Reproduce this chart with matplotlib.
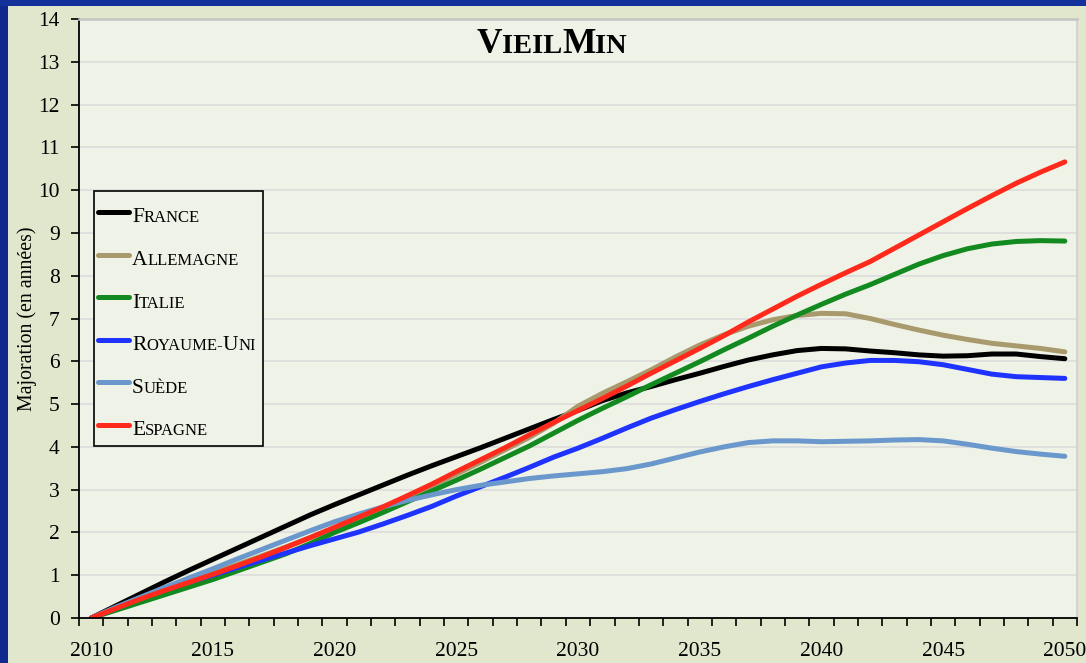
import matplotlib
matplotlib.use("Agg")
import matplotlib.pyplot as plt
from matplotlib.patches import Rectangle
from matplotlib.lines import Line2D
import numpy as np

plt.rcParams['font.family'] = ['Liberation Serif', 'DejaVu Serif']

years = list(range(2010, 2051))

france = [0, 0.28, 0.56, 0.84, 1.11, 1.37, 1.63, 1.89, 2.15, 2.41,
          2.65, 2.88, 3.11, 3.34, 3.56, 3.77, 3.98, 4.2, 4.42, 4.64,
          4.85, 5.08, 5.26, 5.41, 5.57, 5.72, 5.88, 6.03, 6.15, 6.25,
          6.3, 6.29, 6.24, 6.2, 6.15, 6.12, 6.13, 6.17, 6.17, 6.11, 6.06]
allemagne = [0, 0.22, 0.45, 0.66, 0.87, 1.05, 1.25, 1.45, 1.66, 1.88,
             2.1, 2.34, 2.58, 2.83, 3.08, 3.36, 3.64, 3.93, 4.22, 4.55,
             4.95, 5.25, 5.52, 5.8, 6.1, 6.38, 6.62, 6.82, 6.97, 7.07,
             7.12, 7.11, 7.0, 6.86, 6.73, 6.61, 6.51, 6.42, 6.36, 6.3, 6.22]
italie = [0, 0.18, 0.36, 0.54, 0.72, 0.9, 1.1, 1.3, 1.5, 1.74,
          2.0, 2.23, 2.47, 2.72, 2.97, 3.22, 3.48, 3.75, 4.02, 4.32,
          4.62, 4.9, 5.17, 5.45, 5.72, 5.99, 6.27, 6.54, 6.82, 7.08,
          7.33, 7.57, 7.79, 8.03, 8.27, 8.47, 8.63, 8.74, 8.8, 8.82, 8.81]
royaume_uni = [0, 0.23, 0.46, 0.66, 0.84, 1.0, 1.18, 1.35, 1.52, 1.69,
               1.85, 2.01, 2.2, 2.4, 2.61, 2.85, 3.07, 3.29, 3.52, 3.76,
               3.97, 4.2, 4.44, 4.67, 4.87, 5.06, 5.24, 5.41, 5.57, 5.72,
               5.87, 5.96, 6.02, 6.02, 5.99, 5.92, 5.81, 5.7, 5.64, 5.62, 5.6]
suede = [0, 0.25, 0.48, 0.71, 0.93, 1.15, 1.38, 1.6, 1.82, 2.04,
         2.25, 2.43, 2.6, 2.75, 2.88, 3.0, 3.1, 3.18, 3.26, 3.32,
         3.37, 3.42, 3.49, 3.6, 3.74, 3.88, 4.0, 4.1, 4.14, 4.14,
         4.12, 4.13, 4.14, 4.16, 4.17, 4.14, 4.06, 3.97, 3.89, 3.83, 3.78]
espagne = [0, 0.22, 0.44, 0.64, 0.83, 1.02, 1.22, 1.43, 1.65, 1.88,
           2.12, 2.36, 2.6, 2.86, 3.13, 3.42, 3.7, 3.98, 4.28, 4.57,
           4.85, 5.13, 5.42, 5.72, 6.01, 6.3, 6.6, 6.92, 7.22, 7.52,
           7.8, 8.07, 8.33, 8.64, 8.95, 9.26, 9.57, 9.87, 10.16, 10.42, 10.66]

names = ['France', 'Allemagne', 'Italie', 'Royaume-Uni', 'Suède', 'Espagne']
series = [france, allemagne, italie, royaume_uni, suede, espagne]
colors = ['#000000', '#a89a6c', '#128a1f', '#1f33ff', '#6a98cc', '#ff2a1c']

fig = plt.figure(figsize=(10.86, 6.63), dpi=100)
fig.patch.set_facecolor('#e0e7cd')
# blue frame on left and top
fig.patches.append(Rectangle((0, 0), 8 / 1086, 1, transform=fig.transFigure,
                             facecolor='#10298c', edgecolor='none', zorder=-1))
fig.patches.append(Rectangle((0, 1 - 6 / 663), 1, 6 / 663, transform=fig.transFigure,
                             facecolor='#14309a', edgecolor='none', zorder=-1))

ax = fig.add_axes([79 / 1086, 45 / 663, 998 / 1086, 599 / 663])
ax.set_facecolor('#eff2e6')

for name, vals, c in zip(names, series, colors):
    ax.plot(years, vals, color=c, lw=3.6, solid_capstyle='round',
            solid_joinstyle='round', label=name)

ax.set_xlim(2009.5, 2050.5)
ax.set_ylim(0, 14)
ax.set_yticks(range(0, 15))
ax.set_xticks(range(2010, 2051, 5))
ax.set_xticks(np.arange(2009.5, 2051, 1), minor=True)
ax.tick_params(axis='x', which='major', length=0, pad=17, labelsize=15.5)
ax.tick_params(axis='x', which='minor', length=6, width=1.2, direction='out')
ax.tick_params(axis='y', length=6, width=1.2, direction='out', labelsize=15.5, pad=8)
ax.grid(axis='y', color='#dcdcdc', lw=1.2)
ax.set_axisbelow(True)
for s in ['left', 'bottom']:
    ax.spines[s].set_linewidth(1.3)
ax.spines['top'].set_color('#c4c4c4')
ax.spines['top'].set_linewidth(1.8)
ax.spines['right'].set_color('#d0d0d0')
ax.spines['right'].set_linewidth(1.2)

ax.set_ylabel('Majoration (en années)', fontsize=14.3, labelpad=0.5)

renderer = fig.canvas.get_renderer()


def small_caps(x, y, text, big, small, **kw):
    # split text into runs of capitals (big) and lower case (small, upper-cased)
    runs = []
    for ch in text:
        size = big if ch.isupper() else small
        if runs and runs[-1][1] == size:
            runs[-1][0] += ch.upper()
        else:
            runs.append([ch.upper(), size])
    for s, fs in runs:
        t = ax.text(x, y, s, fontsize=fs, transform=ax.transAxes,
                    ha='left', va='baseline', **kw)
        bb = t.get_window_extent(renderer)
        x += bb.width / ax.bbox.width


# title
small_caps(0.398, 0.943, 'VieilMin', 25.5, 20.5, fontweight='bold')

# legend box
ax.add_patch(Rectangle((0.015, 0.2871), 0.1694, 0.4263, transform=ax.transAxes,
                       facecolor='#eff2e6', edgecolor='black', lw=1.2, zorder=5))
for i, (name, c) in enumerate(zip(names, colors)):
    ly = (618 - (212 + 42.6 * i)) / 599
    ty = (618 - (222.3 + 42.6 * i)) / 599
    ax.add_line(Line2D([0.0195, 0.0505], [ly, ly], transform=ax.transAxes,
                       color=c, lw=3.6, solid_capstyle='round', zorder=6))
    small_caps(0.0531, ty, name, 15.5, 12, zorder=6)

fig.savefig('out.png', dpi=100, facecolor=fig.get_facecolor())
